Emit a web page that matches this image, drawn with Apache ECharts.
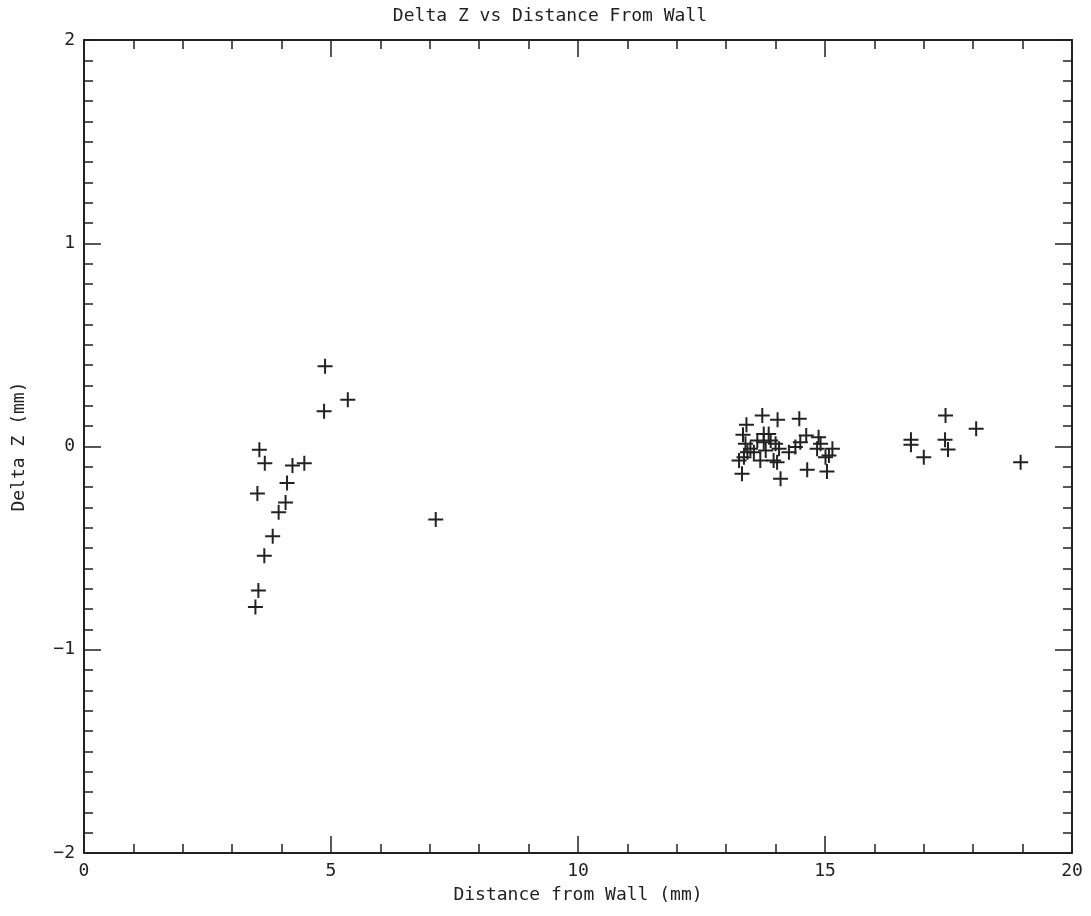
<!DOCTYPE html>
<html>
<head>
<meta charset="utf-8">
<script src="https://cdn.jsdelivr.net/npm/echarts@6/dist/echarts.min.js"></script>
<style>
    html, body {margin: 0; padding: 0; background: #fff;}
    #chart {width: 1091px; height: 916px;}
</style>
</head>
<body>
<div id="chart"></div>
<script>
// distance from wall (mm) and delta z (mm)
const distance = [
    4.88, 5.34, 4.86, 3.55, 3.66, 4.22, 4.46, 4.11, 3.51, 4.08, 3.94, 3.82, 3.65, 3.53, 3.47,
    7.12,
    13.73, 14.04, 14.48, 13.41, 13.34, 13.76, 13.86, 13.39, 13.63, 13.76, 13.90, 14.00,
    13.49, 13.43, 13.36, 13.26, 13.56, 13.80, 14.07, 13.69, 13.96, 14.03, 13.32, 14.10,
    14.27, 14.40, 14.50, 14.62, 14.87, 14.91, 14.84, 15.15, 15.08, 15.01, 14.64, 15.04,
    17.44, 18.06, 16.74, 16.74, 17.00, 17.43, 17.49, 18.96
];
const deltaZ = [
    0.395, 0.230, 0.174, -0.016, -0.082, -0.093, -0.082, -0.180, -0.231, -0.275, -0.323, -0.442, -0.537, -0.708, -0.790,
    -0.359,
    0.152, 0.131, 0.136, 0.107, 0.058, 0.062, 0.062, 0.013, 0.030, 0.021, 0.030, 0.013,
    -0.011, -0.028, -0.053, -0.069, -0.028, -0.020, -0.011, -0.069, -0.069, -0.077, -0.134, -0.159,
    -0.028, -0.003, 0.021, 0.054, 0.046, 0.013, -0.011, -0.011, -0.044, -0.053, -0.115, -0.123,
    0.152, 0.087, 0.033, 0.008, -0.053, 0.033, -0.015, -0.077
];

const ink = '#222';
const fontFamily = '"DejaVu Sans Mono", monospace';
const plus = 'path://M0,6.5H15V8.5H0Z M6.5,0H8.5V15H6.5Z';

const chart = echarts.init(document.getElementById('chart'));

// minus sign like the original plot
const fmt = v => String(v).replace('-', '\u2212');

function axisBase(extra) {
    return Object.assign({
        type: 'value',
        axisLine: {show: true, onZero: false, lineStyle: {color: ink, width: 2}},
        axisTick: {show: true, inside: true, length: 17, lineStyle: {color: ink, width: 1.5}},
        splitLine: {show: false},
        minorSplitLine: {show: false},
        nameTextStyle: {color: ink, fontFamily: fontFamily, fontSize: 18}
    }, extra);
}

const option = {
    backgroundColor: '#fff',
    animation: false,
    title: {
        text: 'Delta Z vs Distance From Wall',
        left: 545,
        top: 2,
        textAlign: 'center',
        textStyle: {color: ink, fontFamily: fontFamily, fontSize: 18, fontWeight: 'normal'}
    },
    grid: {left: 84, right: 19, top: 40, bottom: 63},
    xAxis: [
        axisBase({
            min: 0, max: 20, interval: 5,
            minorTick: {show: true, splitNumber: 5, length: 9, lineStyle: {color: ink, width: 1.5}},
            name: 'Distance from Wall (mm)',
            nameLocation: 'middle',
            nameGap: 33,
            axisLabel: {color: ink, fontFamily: fontFamily, fontSize: 18, margin: 9, formatter: fmt}
        }),
        axisBase({
            position: 'top',
            min: 0, max: 20, interval: 5,
            minorTick: {show: true, splitNumber: 5, length: 9, lineStyle: {color: ink, width: 1.5}},
            axisLabel: {show: false}
        })
    ],
    yAxis: [
        axisBase({
            min: -2, max: 2, interval: 1,
            minorTick: {show: true, splitNumber: 10, length: 9, lineStyle: {color: ink, width: 1.5}},
            name: 'Delta Z (mm)',
            nameLocation: 'middle',
            nameGap: 56,
            axisLabel: {color: ink, fontFamily: fontFamily, fontSize: 18, margin: 9, formatter: fmt}
        }),
        axisBase({
            position: 'right',
            min: -2, max: 2, interval: 1,
            minorTick: {show: true, splitNumber: 10, length: 9, lineStyle: {color: ink, width: 1.5}},
            axisLabel: {show: false}
        })
    ],
    series: [{
        type: 'scatter',
        xAxisIndex: 0,
        yAxisIndex: 0,
        symbol: plus,
        symbolSize: 15,
        itemStyle: {color: ink, opacity: 1},
        data: distance.map((d, i) => [d, deltaZ[i]])
    }]
};

chart.setOption(option);
</script>
</body>
</html>
